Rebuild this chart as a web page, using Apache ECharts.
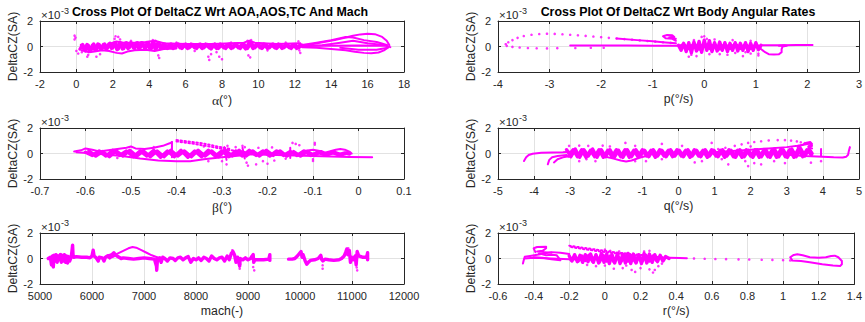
<!DOCTYPE html>
<html>
<head>
<meta charset="utf-8">
<script src="https://cdn.jsdelivr.net/npm/echarts@6/dist/echarts.min.js"></script>
<style>
  html, body { margin: 0; padding: 0; background: #ffffff; }
  #chart { width: 865px; height: 322px; }
</style>
</head>
<body>
<div id="chart"></div>
<script>
// DeltaCZ(SA) values are stored in units of 1e-3 (the axes carry the x10^-3 multiplier).

// ---- DeltaCZ vs angle of attack alpha (deg) ----
const alphaBand = [[0.2,-0.2],[0.35,0.15],[0.5,-0.35],[0.65,0.1],[0.8,-0.3],[0.95,0.2],[1.1,-0.25],[1.25,0.15],[1.4,-0.2],[1.55,0.2],[1.7,-0.15],[1.85,0.25],[2.0,-0.1],[2.15,0.3],[2.3,-0.2],[2.45,0.25],[2.6,-0.15],[2.75,0.3],[2.9,-0.1],[3.05,0.25],[3.2,-0.15],[3.35,0.3],[3.5,-0.1],[3.65,0.25],[3.8,-0.15],[3.95,0.3],[4.1,-0.2],[4.25,0.35],[4.4,-0.15],[4.55,0.25],[4.7,-0.1],[4.85,0.2],[5.0,-0.15],[5.2,0.2],[5.4,-0.1],[5.6,0.2],[5.8,-0.15],[6.0,0.2],[6.2,-0.1],[6.4,0.15],[6.6,-0.15],[6.8,0.2],[7.0,-0.1],[7.2,0.15],[7.4,-0.2],[7.6,0.2],[7.8,-0.15],[8.0,0.15],[8.2,-0.15],[8.4,0.2],[8.6,-0.1],[8.8,0.15],[9.0,-0.15],[9.2,0.2],[9.4,-0.15],[9.6,0.3],[9.8,-0.1],[10.0,0.2],[10.2,-0.15],[10.4,0.15],[10.6,-0.1],[10.8,0.2],[11.0,-0.15],[11.2,0.15],[11.4,-0.1],[11.6,0.15],[11.8,-0.15],[12.0,0.15],[12.2,-0.1],[12.4,0.1]];
const alphaBand2 = [[0.28,0.1],[0.43,-0.25],[0.58,0.15],[0.73,-0.35],[0.88,0.1],[1.03,-0.3],[1.18,0.2],[1.33,-0.2],[1.48,0.15],[1.63,-0.2],[1.78,0.2],[1.93,-0.15],[2.08,0.25],[2.23,-0.25],[2.38,0.3],[2.53,-0.2],[2.68,0.25],[2.83,-0.15],[2.98,0.3],[3.13,-0.1],[3.28,0.25],[3.43,-0.15],[3.58,0.3],[3.73,-0.1],[3.88,0.25],[4.03,-0.15],[4.18,0.3],[4.33,-0.2],[4.48,0.3],[4.63,-0.15],[4.78,0.2],[4.93,-0.1],[5.1,0.15],[5.3,-0.15],[5.5,0.2],[5.7,-0.1],[5.9,0.15],[6.1,-0.15],[6.3,0.2],[6.5,-0.1],[6.7,0.15],[6.9,-0.15],[7.1,0.2],[7.3,-0.1],[7.5,0.15],[7.7,-0.15],[7.9,0.2],[8.1,-0.1],[8.3,0.15],[8.5,-0.15],[8.7,0.2],[8.9,-0.1],[9.1,0.15],[9.3,-0.2],[9.5,0.35],[9.7,-0.15],[9.9,0.2],[10.1,-0.1],[10.3,0.2],[10.5,-0.15],[10.7,0.15],[10.9,-0.1],[11.1,0.2],[11.3,-0.15],[11.5,0.15],[11.7,-0.1],[11.9,0.15],[12.1,-0.15],[12.3,0.15]];
const alphaLow = [[0.3,-0.3],[0.7,-0.45],[1.0,-0.4],[1.4,-0.3],[1.8,-0.35],[2.2,-0.5],[2.5,-0.55],[2.8,-0.4],[3.2,-0.3],[3.8,-0.25],[4.3,-0.35],[4.8,-0.2],[5.5,-0.15]];
const alphaHigh = [[1.8,0.2],[2.2,0.4],[2.6,0.3],[3.2,0.3],[3.8,0.35],[4.3,0.45],[4.8,0.25],[6.0,0.2],[7.5,0.2],[9.2,0.3],[9.5,0.45],[9.8,0.3],[11.0,0.2],[12.3,0.25]];
const alphaFanTop = [[12.4,0.05],[13.0,0.2],[13.6,0.35],[14.2,0.5],[14.8,0.7],[15.2,0.85],[15.6,0.95],[16.0,1.0],[16.4,0.97],[16.8,0.75],[17.05,0.45],[17.2,0.1]];
const alphaFanUpper = [[12.3,0.1],[13.2,0.3],[14.0,0.5],[14.8,0.75],[15.2,0.7],[15.8,0.5],[16.5,0.35],[17.1,0.1]];
const alphaFanMid = [[12.3,0.0],[13.5,0.1],[14.5,0.3],[15.2,0.45],[16.0,0.25],[17.0,0.1]];
const alphaFanAxis = [[12.3,0.05],[14.0,0.05],[15.5,0.08],[17.0,0.05],[17.25,-0.05]];
const alphaFanLow = [[12.4,-0.05],[13.2,-0.1],[14.0,-0.2],[14.8,-0.3],[15.3,-0.42],[15.8,-0.5],[16.2,-0.52],[16.6,-0.47],[16.9,-0.3],[17.15,-0.05]];
const alphaFanLowInner = [[14.5,-0.1],[15.5,-0.25],[16.5,-0.25],[17.1,-0.1]];
const alphaDots = [[-0.1,0.85],[-0.05,0.7],[-0.1,0.55],[0.0,-0.35],[0.1,-0.55],[0.3,-0.45],[0.6,-0.8],[0.65,-0.65],[1.1,-0.8],[1.3,-0.6],[2.15,0.8],[2.3,0.75],[2.1,0.6],[2.4,0.55],[4.2,0.5],[4.5,-0.7],[4.55,-0.9],[4.35,0.45],[7.25,-0.8],[7.3,-1.05],[7.4,-0.6],[7.85,-0.8],[8.0,-1.0],[7.7,-0.45],[9.45,-0.7],[9.55,-0.85],[9.4,0.45],[9.6,0.5],[12.2,0.4],[12.25,-0.3],[12.3,-0.5],[3.0,0.45],[5.5,0.3],[6.5,-0.35],[8.5,0.3],[10.5,-0.3],[11.5,0.3]];

// ---- DeltaCZ vs roll rate p (deg/s) ----
const pArcDots = [[-0.65,0.28],[-0.8,0.33],[-0.95,0.38],[-1.1,0.43],[-1.25,0.48],[-1.4,0.53],[-1.55,0.58],[-1.7,0.63],[-1.85,0.68],[-2.0,0.73],[-2.15,0.78],[-2.3,0.83],[-2.45,0.88],[-2.6,0.92],[-2.75,0.96],[-2.9,0.99],[-3.05,1.0],[-3.2,0.98],[-3.35,0.92],[-3.5,0.82],[-3.62,0.68],[-3.72,0.5],[-3.8,0.33],[-3.85,0.18],[-3.83,0.05],[-3.72,-0.03],[-3.58,-0.08],[-3.42,-0.12],[-3.25,-0.14],[-3.05,-0.15],[-2.85,-0.13],[-2.5,-0.12],[-2.2,-0.1],[-1.95,-0.1]];
const pTailLine = [[-2.6,0.08],[-2.0,0.08],[-1.5,0.07],[-1.0,0.06],[-0.5,0.05]];
const pArcDense = [[-1.7,0.63],[-1.3,0.5],[-1.0,0.42],[-0.75,0.32],[-0.55,0.25]];
const pLoop = [[-0.55,0.45],[-0.62,0.6],[-0.75,0.65],[-0.8,0.8],[-0.72,0.9],[-0.62,0.88],[-0.58,0.75],[-0.68,0.7],[-0.55,0.6]];
const pCloud = [[-0.5,0.1],[-0.45,-0.3],[-0.4,0.25],[-0.35,-0.4],[-0.3,0.3],[-0.25,-0.5],[-0.2,0.35],[-0.15,-0.35],[-0.1,0.4],[-0.05,-0.45],[0.0,0.5],[0.05,-0.3],[0.1,0.45],[0.15,-0.4],[0.2,0.3],[0.25,-0.35],[0.3,0.35],[0.35,-0.3],[0.4,0.3],[0.45,-0.4],[0.5,0.25],[0.55,-0.3],[0.6,0.3],[0.65,-0.35],[0.7,0.25],[0.75,-0.3],[0.8,0.3],[0.85,-0.4],[0.9,0.25],[0.95,-0.3],[1.0,0.3],[1.05,-0.25],[1.1,0.1]];
const pCloudInner = [[-0.48,0.0],[-0.4,0.15],[-0.3,-0.15],[-0.2,0.2],[-0.1,-0.2],[0.0,0.2],[0.1,-0.15],[0.2,0.15],[0.3,-0.2],[0.4,0.15],[0.5,-0.15],[0.6,0.2],[0.7,-0.15],[0.8,0.15],[0.9,-0.15],[1.0,0.1],[1.08,-0.05]];
const pRightLoop = [[1.0,-0.05],[1.1,-0.2],[1.18,-0.45],[1.25,-0.6],[1.35,-0.62],[1.45,-0.6],[1.5,-0.45],[1.5,-0.2],[1.52,0.0],[1.6,0.05],[1.55,0.1],[1.45,0.05]];
const pHeadLine = [[1.1,0.1],[1.5,0.1],[1.8,0.12],[2.1,0.12]];
const pDots = [[-0.3,-0.8],[-0.25,-0.65],[-0.15,-0.75],[-0.05,0.75],[0.0,0.8],[0.05,0.6],[0.1,-0.6],[0.3,-0.6],[0.45,-0.65],[0.6,-0.5],[0.75,-0.75],[0.8,-0.45],[0.9,-0.55],[1.05,-0.7],[1.05,-0.55],[0.9,0.45],[0.55,0.5],[0.2,0.55],[-0.2,0.5]];

// ---- DeltaCZ vs sideslip beta (deg) ----
const betaWave = [[-0.625,0.15],[-0.61,0.25],[-0.6,0.4],[-0.585,0.3],[-0.57,0.15],[-0.55,0.25],[-0.53,0.35],[-0.51,0.45],[-0.5,0.55],[-0.49,0.4],[-0.47,0.35],[-0.45,0.45],[-0.43,0.6],[-0.415,0.8],[-0.41,0.9]];
const betaLow = [[-0.62,0.1],[-0.58,0.0],[-0.55,-0.1],[-0.52,-0.2],[-0.48,-0.4],[-0.44,-0.55],[-0.4,-0.6],[-0.37,-0.6],[-0.34,-0.45],[-0.3,-0.3],[-0.26,-0.15]];
const betaBand = [[-0.6,0.1],[-0.585,-0.15],[-0.57,0.2],[-0.555,-0.2],[-0.54,0.25],[-0.525,-0.15],[-0.51,0.2],[-0.495,-0.25],[-0.48,0.2],[-0.465,-0.2],[-0.45,0.25],[-0.435,-0.3],[-0.42,0.2],[-0.405,-0.25],[-0.39,0.25],[-0.375,-0.3],[-0.36,0.2],[-0.345,-0.25],[-0.33,0.25],[-0.315,-0.2],[-0.3,0.2],[-0.285,-0.25],[-0.27,0.2],[-0.255,-0.2],[-0.24,0.25],[-0.225,-0.15],[-0.21,0.2],[-0.195,-0.2],[-0.18,0.2],[-0.165,-0.15],[-0.15,0.15],[-0.135,-0.15],[-0.12,0.2],[-0.105,-0.15],[-0.09,0.1],[-0.075,-0.1],[-0.06,0.1],[-0.045,-0.1],[-0.03,0.05],[-0.02,-0.05]];
const betaBand2 = [[-0.5925,0.2],[-0.5775,-0.2],[-0.5625,0.15],[-0.5475,-0.25],[-0.5325,0.2],[-0.5175,-0.2],[-0.5025,0.25],[-0.4875,-0.2],[-0.4725,0.2],[-0.4575,-0.25],[-0.4425,0.2],[-0.4275,-0.25],[-0.4125,0.25],[-0.3975,-0.2],[-0.3825,0.2],[-0.3675,-0.25],[-0.3525,0.25],[-0.3375,-0.2],[-0.3225,0.2],[-0.3075,-0.25],[-0.2925,0.25],[-0.2775,-0.2],[-0.2625,0.25],[-0.2475,-0.2],[-0.2325,0.2],[-0.2175,-0.2],[-0.2025,0.25],[-0.1875,-0.15],[-0.1725,0.2],[-0.1575,-0.2],[-0.1425,0.15],[-0.1275,-0.2],[-0.1125,0.15],[-0.0975,-0.15],[-0.0825,0.15],[-0.0675,-0.1],[-0.0525,0.1],[-0.0375,-0.1],[-0.025,0.05]];
const betaSpikeA = [[-0.41,0.9],[-0.41,-0.3]];
const betaSpikeB = [[-0.295,0.5],[-0.29,-0.5]];
const betaSpikeC = [[-0.255,0.45],[-0.25,-0.4]];
const betaSpikeD = [[-0.15,0.45],[-0.15,-0.35]];
const betaWedgeTop = [[-0.4,1.05],[-0.37,0.92],[-0.34,0.78],[-0.31,0.55],[-0.28,0.35]];
const betaWedgeBottom = [[-0.4,0.95],[-0.36,0.75],[-0.32,0.5],[-0.29,0.3],[-0.25,0.12]];
const betaTail = [[-0.28,-0.05],[-0.2,-0.1],[-0.1,-0.2],[-0.02,-0.27],[0.03,-0.3]];
const betaBump = [[-0.08,0.0],[-0.06,0.2],[-0.05,0.3],[-0.04,0.35],[-0.03,0.3],[-0.02,0.15],[-0.015,0.0],[-0.03,-0.05]];
const betaLoop = [[-0.13,0.0],[-0.12,0.2],[-0.1,0.3],[-0.085,0.2],[-0.09,0.0],[-0.1,-0.1]];
const betaDots = [[-0.145,0.83],[-0.138,0.75],[-0.13,0.65],[-0.096,0.83],[-0.096,0.7],[-0.1,-0.58],[-0.1,-0.45],[-0.246,-0.72],[-0.243,-0.95],[-0.225,-0.85],[-0.21,-0.6],[-0.2,-0.8],[-0.185,-0.55],[-0.19,0.48],[-0.255,0.6],[-0.25,0.5],[-0.288,0.6],[-0.29,-0.85],[-0.34,0.55],[-0.33,-0.6],[-0.53,-0.35],[-0.45,0.5],[-0.16,-0.4],[-0.27,0.5],[-0.22,0.45],[-0.3,-0.6]];

// ---- DeltaCZ vs pitch rate q (deg/s) ----
const qTailA = [[-4.28,-0.59],[-4.22,-0.3],[-4.15,-0.12],[-4.04,-0.02],[-3.8,0.05],[-3.5,0.08],[-3.2,0.1],[-2.94,0.15]];
const qTailB = [[-3.62,-0.85],[-3.58,-0.5],[-3.5,-0.3],[-3.35,-0.2],[-3.1,-0.12]];
const qTailC = [[-3.45,-0.7],[-3.35,-0.45],[-3.2,-0.3],[-3.0,-0.2]];
const qBand = [[-3.1,0.3],[-2.98,-0.25],[-2.86,0.35],[-2.74,-0.3],[-2.62,0.3],[-2.5,-0.2],[-2.38,0.35],[-2.26,-0.3],[-2.14,0.3],[-2.02,-0.25],[-1.9,0.3],[-1.78,-0.3],[-1.66,0.25],[-1.54,-0.3],[-1.42,0.3],[-1.3,-0.25],[-1.18,0.3],[-1.06,-0.2],[-0.94,0.25],[-0.82,-0.25],[-0.7,0.3],[-0.58,-0.2],[-0.46,0.25],[-0.34,-0.25],[-0.22,0.3],[-0.1,-0.2],[0.02,0.25],[0.14,-0.25],[0.26,0.3],[0.38,-0.2],[0.5,0.25],[0.62,-0.25],[0.74,0.3],[0.86,-0.2],[0.98,0.25],[1.1,-0.25],[1.22,0.3],[1.34,-0.2],[1.46,0.25],[1.58,-0.3],[1.7,0.3],[1.82,-0.25],[1.94,0.25],[2.06,-0.3],[2.18,0.3],[2.3,-0.25],[2.42,0.3],[2.54,-0.3],[2.66,0.35],[2.78,-0.25],[2.9,0.3],[3.02,-0.3],[3.14,0.35],[3.26,-0.25],[3.38,0.4],[3.5,-0.2],[3.62,0.35],[3.7,0.0]];
const qBand2 = [[-3.04,-0.2],[-2.92,0.3],[-2.8,-0.25],[-2.68,0.3],[-2.56,-0.3],[-2.44,0.25],[-2.32,-0.25],[-2.2,0.3],[-2.08,-0.3],[-1.96,0.25],[-1.84,-0.25],[-1.72,0.3],[-1.6,-0.25],[-1.48,0.3],[-1.36,-0.3],[-1.24,0.25],[-1.12,-0.25],[-1.0,0.3],[-0.88,-0.2],[-0.76,0.25],[-0.64,-0.3],[-0.52,0.3],[-0.4,-0.2],[-0.28,0.25],[-0.16,-0.25],[-0.04,0.3],[0.08,-0.2],[0.2,0.25],[0.32,-0.3],[0.44,0.3],[0.56,-0.2],[0.68,0.25],[0.8,-0.3],[0.92,0.3],[1.04,-0.2],[1.16,0.25],[1.28,-0.3],[1.4,0.3],[1.52,-0.25],[1.64,0.25],[1.76,-0.3],[1.88,0.3],[2.0,-0.2],[2.12,0.3],[2.24,-0.3],[2.36,0.25],[2.48,-0.25],[2.6,0.3],[2.72,-0.3],[2.84,0.35],[2.96,-0.25],[3.08,0.3],[3.2,-0.3],[3.32,0.35],[3.44,-0.25],[3.56,0.3],[3.68,-0.1]];
const qDip = [[-2.1,-0.2],[-1.8,-0.4],[-1.6,-0.55],[-1.45,-0.62],[-1.3,-0.55],[-1.1,-0.35],[-0.9,-0.2]];
const qArcDots = [[1.1,0.35],[1.3,0.45],[1.56,0.6],[1.75,0.72],[1.93,0.83],[2.1,0.9],[2.29,0.96],[2.5,1.02],[2.75,1.05],[2.95,1.05],[3.12,1.01],[3.28,0.95],[3.39,0.88],[3.5,0.82],[3.58,0.75],[3.63,0.62]];
const qRamp = [[1.0,0.1],[1.5,0.2],[2.0,0.3],[2.5,0.4],[3.0,0.5],[3.3,0.6],[3.5,0.7],[3.65,0.8],[3.7,0.6],[3.6,0.5],[3.7,0.4]];
const qCluster = [[3.3,0.5],[3.45,0.7],[3.55,0.85],[3.65,0.9],[3.7,0.75],[3.6,0.55]];
const qHead = [[3.0,-0.1],[3.5,-0.2],[4.0,-0.25],[4.3,-0.3],[4.55,-0.32],[4.65,-0.25],[4.7,-0.1],[4.72,0.2],[4.75,0.5]];
const qStep = [[3.95,-0.15],[3.95,0.35]];
const qDots = [[-3.03,0.6],[-2.75,0.62],[-2.5,0.6],[-2.1,0.62],[-1.47,0.83],[-0.46,0.75],[0.92,0.83],[-2.75,-0.6],[-2.55,-0.45],[-2.3,-0.6],[-1.2,-0.6],[0.45,-0.7],[0.65,-0.6],[1.38,-0.85],[1.93,-0.99],[2.1,-0.75],[2.29,-0.85],[2.65,-0.6],[2.95,-0.75],[3.67,-0.72],[3.95,-0.6],[1.85,-0.6],[1.2,-0.45],[-0.46,-0.45],[-0.9,-0.6],[0.1,0.6],[-1.2,0.6],[-1.9,0.55],[2.0,0.55]];

// ---- DeltaCZ vs Mach ----
const machA = [[5160,0],[5200,0.1],[5220,-0.5],[5240,0.2],[5256,-0.65],[5270,0.25],[5290,-0.2],[5310,0.3],[5330,-0.3],[5350,0.2],[5370,-0.1],[5390,0.3],[5410,-0.3],[5430,0.25],[5450,-0.2],[5470,0.3],[5490,-0.3],[5510,0.2],[5530,-0.35],[5550,0.15],[5570,-0.2],[5600,0.1],[5615,0.6],[5627,1.05],[5635,0.3],[5650,0.1],[5700,0.15],[5800,0.1],[5900,0.1],[5960,0.05],[6000,0.2],[6023,0.65],[6040,0.2],[6080,0.05],[6120,-0.2],[6140,0.1],[6200,0.05],[6230,-0.2],[6260,0.1],[6300,0.2],[6340,0.05],[6380,0.3],[6420,0.45],[6440,0.3],[6480,0.2],[6520,0.1],[6560,0.0],[6600,0.05],[6700,0.0],[6800,-0.05],[6900,0.0],[7000,0.05],[7100,0.0],[7200,-0.05],[7240,-0.6],[7245,-0.9],[7260,0.0],[7300,0.05],[7330,-0.3],[7360,0.1],[7400,0.0],[7450,-0.2],[7500,0.05],[7560,0.0],[7600,-0.15],[7650,0.05],[7700,0.1],[7750,-0.1],[7800,0.05],[7850,0.15],[7900,-0.3],[7950,0.0],[8000,-0.1],[8050,0.05],[8100,-0.15],[8150,0.1],[8200,0.0],[8250,-0.2],[8300,0.2],[8350,0.0],[8400,-0.1],[8450,0.05],[8500,0.1],[8550,-0.2],[8600,0.2],[8640,-0.1],[8680,0.4],[8710,0.55],[8740,0.3],[8770,-0.3],[8800,0.1],[8840,-0.6],[8850,0.0],[8900,-0.1],[8950,0.05],[9000,-0.1],[9050,0.0],[9080,0.2],[9100,0.3],[9110,-0.3],[9130,-0.1],[9200,-0.1],[9300,-0.1],[9400,-0.05],[9420,0.3],[9420,-0.15]];
const machRamp = [[6400,0.2],[6500,0.4],[6600,0.6],[6700,0.8],[6780,0.9],[6850,0.85],[6950,0.65],[7050,0.45],[7150,0.25],[7250,0.1]];
const machLoop = [[6250,0.1],[6300,0.25],[6400,0.35],[6450,0.4],[6420,0.15],[6350,0.05]];
const machB = [[9780,-0.05],[9850,-0.05],[9900,0.0],[9950,0.2],[10000,0.45],[10020,0.55],[10040,0.1],[10060,0.3],[10100,-0.2],[10130,-0.45],[10160,-0.3],[10200,-0.15],[10280,-0.1],[10350,0.0],[10400,0.25],[10420,-0.1],[10440,-0.2],[10480,-0.05],[10550,-0.1],[10650,-0.15],[10750,-0.1],[10800,0.0],[10850,0.2],[10880,0.5],[10900,0.75],[10920,0.3],[10950,0.6],[10970,-0.3],[10990,0.1],[11020,-0.1],[11060,0.2],[11080,-0.5],[11100,0.55],[11130,0.2],[11200,0.1],[11280,0.1],[11300,0.45],[11300,-0.1]];
const machDots = [[5224,-0.53],[5256,-0.67],[5240,-0.35],[9100,-0.67],[9120,-0.93],[8840,-0.8],[8700,0.65],[10435,-0.53],[10435,-0.8],[11100,-0.93],[11090,-0.7],[10930,0.8],[10950,0.65],[7240,-0.95],[5400,0.35],[8850,-0.45]];

// ---- DeltaCZ vs yaw rate r (deg/s) ----
const rLeft = [[-0.46,-0.4],[-0.455,-0.1],[-0.45,0.13],[-0.42,0.2],[-0.38,0.3],[-0.34,0.4],[-0.3,0.5],[-0.25,0.45],[-0.2,0.35]];
const rLoop = [[-0.39,0.5],[-0.4,0.8],[-0.38,0.9],[-0.33,0.93],[-0.33,0.8],[-0.35,0.6],[-0.38,0.55],[-0.34,0.5],[-0.3,0.45]];
const rTri = [[-0.37,0.4],[-0.33,0.25],[-0.3,0.3],[-0.27,0.25],[-0.25,-0.13],[-0.3,-0.05],[-0.35,0.05],[-0.4,0.1]];
const rLow = [[-0.45,0.0],[-0.4,0.05],[-0.3,0.0],[-0.2,-0.05],[-0.1,-0.1]];
const rDescA = [[-0.2,1.0],[-0.15,0.9],[-0.1,0.8],[-0.05,0.7],[0.0,0.6],[0.05,0.5],[0.1,0.42],[0.15,0.35],[0.2,0.28],[0.25,0.2],[0.3,0.12]];
const rDescB = [[-0.19,0.9],[-0.1,0.7],[0.0,0.5],[0.1,0.35],[0.2,0.2],[0.3,0.05]];
const rCloud = [[-0.2,0.2],[-0.185,-0.2],[-0.17,0.3],[-0.155,-0.25],[-0.14,0.25],[-0.125,-0.3],[-0.11,0.3],[-0.095,-0.25],[-0.08,0.35],[-0.065,-0.3],[-0.05,0.3],[-0.035,-0.35],[-0.02,0.4],[-0.005,-0.3],[0.01,0.35],[0.025,-0.4],[0.04,0.3],[0.055,-0.35],[0.07,0.35],[0.085,-0.4],[0.1,0.35],[0.115,-0.35],[0.13,0.4],[0.145,-0.4],[0.16,0.35],[0.175,-0.35],[0.19,0.3],[0.205,-0.4],[0.22,0.4],[0.235,-0.35],[0.25,0.35],[0.265,-0.3],[0.28,0.3],[0.295,-0.25],[0.31,0.25],[0.325,-0.2],[0.34,0.15],[0.36,0.0]];
const rCloud2 = [[-0.19,-0.1],[-0.17,0.15],[-0.15,-0.2],[-0.13,0.2],[-0.11,-0.15],[-0.09,0.25],[-0.07,-0.2],[-0.05,0.2],[-0.03,-0.25],[-0.01,0.25],[0.01,-0.2],[0.03,0.2],[0.05,-0.25],[0.07,0.2],[0.09,-0.25],[0.11,0.25],[0.13,-0.2],[0.15,0.2],[0.17,-0.25],[0.19,0.2],[0.21,-0.2],[0.23,0.25],[0.25,-0.2],[0.27,0.2],[0.29,-0.15],[0.31,0.15],[0.33,-0.1]];
const rTailLine = [[0.3,0.08],[0.36,0.06],[0.42,0.04],[0.46,0.02]];
const rTailDots = [[0.5,0.0],[0.56,-0.02],[0.62,-0.04],[0.68,-0.05],[0.75,-0.07],[0.81,-0.08],[0.88,-0.1],[0.94,-0.11],[1.0,-0.13],[1.04,-0.15]];
const rRight = [[1.05,-0.1],[1.04,0.1],[1.06,0.28],[1.08,0.33],[1.11,0.25],[1.15,0.1],[1.2,0.05],[1.24,0.1],[1.27,0.2],[1.29,0.22],[1.31,0.1],[1.33,-0.2],[1.33,-0.45],[1.32,-0.58],[1.28,-0.55],[1.22,-0.45],[1.15,-0.3],[1.1,-0.2],[1.05,-0.15]];
const rDots = [[-0.05,-0.6],[0.0,-0.55],[0.03,0.6],[0.05,-0.8],[0.1,-0.75],[0.12,-0.55],[0.15,-0.9],[0.17,-1.05],[0.2,-0.75],[0.25,-0.85],[0.27,-1.1],[0.28,-0.9],[0.3,-0.6],[0.22,0.55],[0.25,0.6],[0.0,0.7],[-0.1,-0.5],[0.08,0.55],[0.32,-0.4]];

// y range shared by all panels (x10^-3)
const yTicks = { min: -2, max: 2, step: 2 };

const titles = [
  { text: 'Cross Plot Of DeltaCZ Wrt AOA,AOS,TC And Mach', cx: 220, cy: 12 },
  { text: 'Cross Plot Of DeltaCZ Wrt Body Angular Rates', cx: 678, cy: 12 }
];

const PLOT_W = 364, PLOT_H = 51;
const panels = [
  { left: 40,  top: 21,  xMin: -2,   xMax: 18,    xStep: 2,    xName: '{g|α}(°)',
    bands: [alphaBand, alphaBand2],
    paths: [alphaLow, alphaHigh, alphaFanTop, alphaFanUpper, alphaFanMid, alphaFanAxis, alphaFanLow, alphaFanLowInner],
    dashed: [], dots: [alphaDots] },
  { left: 498, top: 21,  xMin: -4,   xMax: 3,     xStep: 1,    xName: 'p(°/s)',
    bands: [pCloud, pCloudInner],
    paths: [pTailLine, pArcDense, pLoop, pRightLoop, pHeadLine],
    dashed: [], dots: [pArcDots, pDots] },
  { left: 40,  top: 128, xMin: -0.7, xMax: 0.1,   xStep: 0.1,  xName: '{g|β}(°)',
    bands: [betaBand, betaBand2],
    paths: [betaWave, betaLow, betaTail, betaBump, betaLoop, betaSpikeA, betaSpikeB, betaSpikeC, betaSpikeD],
    dashed: [betaWedgeTop, betaWedgeBottom], dots: [betaDots] },
  { left: 498, top: 128, xMin: -5,   xMax: 5,     xStep: 1,    xName: 'q(°/s)',
    bands: [qBand, qBand2],
    paths: [qTailA, qTailB, qTailC, qDip, qRamp, qCluster, qHead, qStep],
    dashed: [], dots: [qArcDots, qDots] },
  { left: 40,  top: 233, xMin: 5000, xMax: 12000, xStep: 1000, xName: 'mach(-)',
    bands: [machA, machB],
    paths: [machRamp, machLoop],
    dashed: [], dots: [machDots] },
  { left: 498, top: 233, xMin: -0.6, xMax: 1.4,   xStep: 0.2,  xName: 'r(°/s)',
    bands: [rCloud, rCloud2],
    paths: [rLeft, rLoop, rTri, rLow, rTailLine, rRight],
    dashed: [rDescA, rDescB], dots: [rTailDots, rDots] }
];

const MAGENTA = '#ff00ff';
const INK = '#262626';
const GRIDLINE = '#e2e2e2';
const FONT = '"Liberation Sans", Arial, Helvetica, sans-serif';
const fmt = v => String(+(+v).toFixed(4));

const grid = [], xAxis = [], yAxis = [], series = [], graphic = [];

panels.forEach((p, i) => {
  grid.push({ left: p.left, top: p.top, width: PLOT_W, height: PLOT_H, show: false, containLabel: false });

  const boxLine = { show: true, onZero: false, lineStyle: { color: INK, width: 1 } };
  const tick = { show: true, inside: true, length: 3, lineStyle: { color: INK, width: 1 } };

  xAxis.push({
    gridIndex: i, type: 'value', position: 'bottom',
    min: p.xMin, max: p.xMax, interval: p.xStep,
    axisLine: boxLine, axisTick: tick,
    axisLabel: { show: true, color: INK, fontSize: 11, fontFamily: FONT, margin: 6, formatter: fmt, showMinLabel: true, showMaxLabel: true },
    splitLine: { show: true, lineStyle: { color: GRIDLINE, width: 1 } },
    name: p.xName, nameLocation: 'middle', nameGap: 21,
    nameTextStyle: { color: INK, fontSize: 12.3, fontFamily: FONT,
      rich: { g: { fontFamily: '"Liberation Serif", "DejaVu Serif", serif', fontSize: 13.5, color: INK } } }
  });
  xAxis.push({
    gridIndex: i, type: 'value', position: 'top',
    min: p.xMin, max: p.xMax, interval: p.xStep,
    axisLine: boxLine, axisTick: tick, axisLabel: { show: false }, splitLine: { show: false }
  });

  yAxis.push({
    gridIndex: i, type: 'value', position: 'left',
    min: yTicks.min, max: yTicks.max, interval: yTicks.step,
    axisLine: boxLine, axisTick: tick,
    axisLabel: { show: true, color: INK, fontSize: 11, fontFamily: FONT, margin: 7, formatter: fmt },
    splitLine: { show: true, lineStyle: { color: GRIDLINE, width: 1 } },
    name: 'DeltaCZ(SA)', nameLocation: 'middle', nameRotate: 90, nameGap: 19,
    nameTextStyle: { color: INK, fontSize: 12.3, fontFamily: FONT }
  });
  yAxis.push({
    gridIndex: i, type: 'value', position: 'right',
    min: yTicks.min, max: yTicks.max, interval: yTicks.step,
    axisLine: boxLine, axisTick: tick, axisLabel: { show: false }, splitLine: { show: false }
  });

  const xi = 2 * i, yi = 2 * i;
  const addLine = (d, width, type) => series.push({
    type: 'line', xAxisIndex: xi, yAxisIndex: yi, data: d,
    showSymbol: false, symbol: 'none', silent: true, clip: true,
    lineStyle: { color: MAGENTA, width, type: type || 'solid', cap: 'round', join: 'round' }
  });
  p.bands.forEach(d => addLine(d, 3.4));
  p.paths.forEach(d => addLine(d, 2));
  p.dashed.forEach(d => addLine(d, 2, [1.5, 2.5]));
  p.dots.forEach(d => series.push({
    type: 'scatter', xAxisIndex: xi, yAxisIndex: yi, data: d,
    symbol: 'circle', symbolSize: 2.6, silent: true, clip: true,
    itemStyle: { color: MAGENTA }
  }));

  // x10^-3 multiplier above each y axis
  graphic.push({ type: 'text', x: p.left + 1, y: p.top - 6, silent: true,
    style: { text: '×10', fill: INK, font: '11.5px ' + FONT, align: 'left', verticalAlign: 'middle' } });
  graphic.push({ type: 'text', x: p.left + 21, y: p.top - 10, silent: true,
    style: { text: '-3', fill: INK, font: '9px ' + FONT, align: 'left', verticalAlign: 'middle' } });
});

titles.forEach(t => graphic.push({
  type: 'text', x: t.cx, y: t.cy, silent: true,
  style: { text: t.text, fill: '#000000', font: 'bold 12.4px ' + FONT, align: 'center', verticalAlign: 'middle' }
}));

const chart = echarts.init(document.getElementById('chart'), null, { renderer: 'svg', width: 865, height: 322 });
chart.setOption({
  animation: false,
  backgroundColor: '#ffffff',
  textStyle: { fontFamily: FONT },
  grid, xAxis, yAxis, series, graphic
});
</script>
</body>
</html>
